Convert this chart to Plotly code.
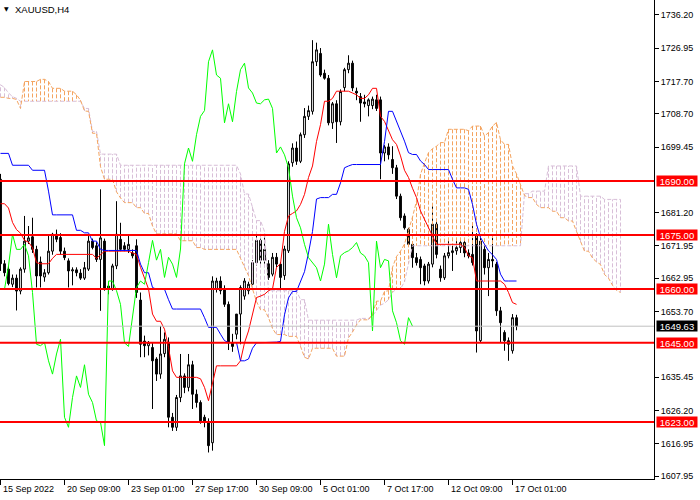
import plotly.graph_objects as go

# H4 bars, bar 0 = 15 Sep 2022 00:00
opens = [
    1690.5, 1667, 1665.5, 1661.3, 1663, 1659.4, 1665.5, 1673.3, 1674.5, 1671,
    1667.5, 1663.3, 1664.5, 1670.5, 1675.2, 1674.3, 1670.5, 1667.8, 1665, 1665.3,
    1664.4, 1663, 1665.5, 1673.3, 1672, 1668.2, 1673.3, 1660.8, 1659.9, 1666.4,
    1673.8, 1672, 1671, 1670, 1672, 1656.9, 1645.5, 1644.2, 1643.7, 1640.5,
    1636.3, 1642, 1645.1, 1624.3, 1621.5, 1629.8, 1635.8, 1632.6, 1638.9, 1630.7,
    1628.4, 1624.3, 1622.9, 1617.2, 1659.9, 1662.2, 1659.9, 1655.7, 1645, 1647.4,
    1653, 1658, 1659.5, 1661.3, 1667.3, 1673.5, 1668, 1667, 1664.1, 1668.8,
    1666.9, 1663.7, 1670.6, 1695.1, 1699.2, 1695.5, 1702.9, 1708, 1709.4, 1723.2,
    1725.5, 1720, 1718.6, 1706.2, 1711.5, 1706.5, 1716, 1721, 1722.8, 1715,
    1713.5, 1712, 1711, 1711, 1712.6, 1712.6, 1697.8, 1699.5, 1696, 1693.7,
    1685.8, 1680.3, 1676.6, 1672.4, 1668.7, 1668.2, 1666.4, 1662.2, 1666.9, 1678,
    1665.5, 1663.1, 1669.2, 1670.1, 1670.6, 1671.5, 1672.9, 1670, 1669.6, 1674.7,
    1645.6, 1671, 1665.9, 1668.2, 1666.9, 1653.9, 1647.9, 1645.6, 1642.8, 1652,
]
highs = [
    1692, 1668, 1666.5, 1664, 1664, 1666, 1680.3, 1677.5, 1679.8, 1672,
    1669, 1665.5, 1675.2, 1675.6, 1676.5, 1675.5, 1671.5, 1668.5, 1666, 1666,
    1665.5, 1667.5, 1674.7, 1674, 1673, 1687.7, 1674, 1662, 1667, 1684.4,
    1678.4, 1673, 1675, 1671, 1673.8, 1659, 1647, 1645.5, 1645, 1641,
    1649.7, 1647.9, 1646.5, 1625.5, 1630.5, 1641.9, 1636.5, 1641.9, 1640, 1632,
    1629, 1625, 1624, 1663.5, 1663.1, 1663.5, 1661, 1656.5, 1647.5, 1648.5,
    1661, 1663, 1662, 1668, 1675, 1674, 1674.8, 1668, 1670, 1670,
    1667.5, 1672, 1695.5, 1700.5, 1701, 1703.5, 1710.3, 1711, 1729.2, 1728.5,
    1727, 1721, 1719.5, 1712, 1712.5, 1715.5, 1721.5, 1725, 1723.5, 1716,
    1714.5, 1714, 1713, 1713.5, 1714, 1713.5, 1700, 1700.5, 1699.7, 1694.5,
    1686.5, 1681, 1677, 1673, 1670, 1669, 1667, 1667.5, 1683.1, 1678.8,
    1666.5, 1670, 1674, 1672, 1673.5, 1673.3, 1674, 1671, 1677.8, 1675.5,
    1674.5, 1672.5, 1670, 1674.7, 1667.5, 1655, 1648.5, 1646.5, 1653, 1652.8,
]
lows = [
    1665, 1663.5, 1661, 1660.5, 1654, 1658.5, 1664.5, 1672.5, 1670, 1660.4,
    1660.4, 1662, 1664, 1669.5, 1673, 1669.5, 1668, 1660.4, 1661, 1663.5,
    1662.5, 1662.5, 1665, 1671, 1667.5, 1653.9, 1659.5, 1658.5, 1659.5, 1665.5,
    1670.5, 1670.5, 1670, 1668.5, 1657.5, 1641, 1641, 1641.5, 1626.6, 1634.4,
    1635, 1641, 1621.5, 1620.5, 1620.5, 1628.5, 1631, 1631.5, 1626.6, 1627,
    1622.5, 1621.5, 1614.5, 1615, 1659, 1658.5, 1655, 1643, 1642.5, 1646,
    1644.6, 1657, 1658.5, 1660.5, 1666.5, 1667, 1667, 1662.5, 1663.5, 1666,
    1659.5, 1662.5, 1670, 1694, 1694.5, 1695, 1702, 1707, 1708.5, 1722,
    1719, 1718.2, 1705.5, 1704.5, 1700.6, 1705.5, 1715, 1720, 1715, 1712.5,
    1706.5, 1710.5, 1708, 1710, 1709.5, 1690.5, 1695.5, 1696, 1692, 1685,
    1679, 1676.5, 1671.8, 1665.9, 1666.5, 1661.3, 1661, 1661.5, 1666, 1668.5,
    1662, 1662.5, 1668.5, 1665, 1669.5, 1670, 1668.8, 1668.5, 1666.5, 1642.3,
    1645, 1664, 1658, 1666, 1652.5, 1645, 1642.8, 1640, 1642, 1648.5,
]
closes = [
    1667, 1664.5, 1661.5, 1663, 1659.4, 1665.5, 1673.3, 1674.2, 1671, 1663.6,
    1663.6, 1664.5, 1670.5, 1675.2, 1673.8, 1670.5, 1668.7, 1665, 1665.3, 1664.5,
    1663, 1665.9, 1673.3, 1671.5, 1668.2, 1674.2, 1659.9, 1659.9, 1666.4, 1675.2,
    1671, 1671, 1672.4, 1669.2, 1659, 1644.6, 1644.2, 1645.1, 1640, 1636.3,
    1641.9, 1646, 1624.3, 1621.5, 1629.8, 1635.8, 1632.6, 1638.9, 1630.7, 1628.4,
    1623.3, 1622.9, 1616.4, 1662.2, 1662.2, 1659.5, 1655.7, 1645, 1644, 1653,
    1660.4, 1662.2, 1661.3, 1667.3, 1673.5, 1668, 1671, 1663.2, 1668.8, 1666.9,
    1663.2, 1671.1, 1694.8, 1699.2, 1695.5, 1702.9, 1708, 1709.6, 1723.2, 1726.5,
    1719.5, 1718.6, 1706.2, 1711.5, 1706.5, 1714.9, 1721, 1722.8, 1715.9, 1714.5,
    1711.7, 1711.5, 1712.6, 1712.8, 1710.2, 1697.8, 1699.5, 1697.3, 1693.7, 1685.8,
    1679.8, 1677, 1672.4, 1668.7, 1667.3, 1665.9, 1662.2, 1666.9, 1678, 1669.6,
    1663.1, 1669.2, 1670.1, 1670.6, 1671.5, 1672.9, 1670, 1669.2, 1667.3, 1648.3,
    1673.3, 1665.9, 1668.2, 1667.8, 1653.9, 1650.6, 1645.6, 1644.6, 1652, 1649.63,
]

# ichimoku lines as drawn (red tenkan, blue kijun)
tenkan = [
    1683.7, 1683.7, 1682.5, 1678.5, 1676.5, 1675.5, 1673.5, 1673, 1671.5, 1667.3,
    1667, 1667, 1667, 1668.5, 1669.6, 1669.6, 1669.6, 1669.6, 1669.6, 1669.6,
    1669.6, 1669.6, 1669.6, 1669.6, 1668.5, 1669.6, 1670.5, 1670.5, 1670.5, 1670.5,
    1670.5, 1670.5, 1670.5, 1670, 1669.6, 1666, 1663, 1660, 1653, 1651,
    1651, 1648.8, 1643.7, 1637.2, 1635.4, 1635.4, 1635.4, 1635.4, 1635.4, 1635.4,
    1635, 1632.6, 1628.9, 1633.5, 1638.6, 1638.6, 1638.6, 1638.6, 1638.6, 1638.6,
    1640, 1645, 1648.3, 1653.4, 1657.6, 1658, 1658.5, 1659.5, 1660, 1666,
    1667, 1676, 1680.3, 1681, 1681.7, 1683.5, 1686.3, 1691, 1694.2, 1701,
    1705.7, 1712.2, 1712.2, 1713, 1715, 1715, 1715, 1715, 1714.5, 1714,
    1713, 1713, 1714, 1715.8, 1715.8, 1708, 1706.6, 1703.8, 1701.5, 1700.2,
    1697, 1693, 1691, 1688, 1685.4, 1681.7, 1679.5, 1677, 1674.7, 1672.4,
    1672.4, 1672.4, 1672.4, 1672.4, 1672.4, 1672.4, 1671.5, 1669.2, 1668.7, 1662.2,
    1662.2, 1662.2, 1662.2, 1662.2, 1662.2, 1662.2, 1661.3, 1659, 1656.2, 1655.7,
]
kijun = [
    1697.7, 1697.7, 1697.7, 1694.4, 1694.4, 1694.4, 1694.4, 1694.4, 1693, 1693,
    1693, 1693, 1687.2, 1680.6, 1680.6, 1680.6, 1680.6, 1680.6, 1680.6, 1676.3,
    1676.3, 1675.6, 1675.6, 1673.3, 1673.3, 1671, 1670.7, 1670.7, 1670.7, 1670.7,
    1670.7, 1670.7, 1670.7, 1670.7, 1670.7, 1666.9, 1664.5, 1664.5, 1660.4, 1659.9,
    1659.9, 1659.9, 1657, 1654.4, 1654.4, 1654.4, 1654.4, 1654.4, 1654.4, 1654.4,
    1654.4, 1652, 1649.3, 1649.3, 1649.3, 1647.4, 1645.6, 1645.1, 1645.1, 1645.1,
    1640, 1640, 1640.5, 1643.5, 1645, 1645, 1645.2, 1645.2, 1645.2, 1645.2,
    1645.4, 1652.8, 1657.5, 1659.3, 1659.3, 1662, 1664.8, 1670, 1676, 1685,
    1685.4, 1685.4, 1685.4, 1686.3, 1686.3, 1689.5, 1693.7, 1694.2, 1694.6, 1694.6,
    1694.6, 1694.6, 1694.6, 1694.6, 1694.6, 1694.6, 1701, 1709.4, 1709.4, 1706.7,
    1704, 1701.1, 1697.9, 1697.4, 1697.4, 1695.6, 1694.6, 1693.2, 1693.2, 1693.2,
    1693.2, 1693.2, 1693.2, 1690.5, 1688.1, 1688.1, 1688.1, 1687.7, 1683.5, 1678,
    1674.3, 1672.4, 1670.6, 1669.5, 1668.2, 1664.1, 1662.2, 1662.2, 1662.2, 1662.2,
]
# cloud spans, drawn 26 bars ahead of the last candle
senkou_a = [
    1713.3, 1713.3, 1713, 1713, 1712.7, 1710.2, 1717.7, 1717.7, 1717.7, 1717.7,
    1718.3, 1718.3, 1717.7, 1715.8, 1715.8, 1715.8, 1715, 1715, 1715, 1714,
    1712.5, 1709.5, 1709.4, 1703.3, 1703.3, 1694, 1690.5, 1690.5, 1690.5, 1687,
    1685.3, 1684, 1684, 1684, 1682.6, 1682.6, 1681, 1681, 1677.5, 1675.3,
    1675.3, 1675.3, 1675.3, 1675.3, 1675.3, 1673.4, 1673.4, 1673.4, 1673.4, 1671.5,
    1671.5, 1671, 1671, 1671, 1671, 1671, 1671, 1671, 1671, 1671,
    1668.5, 1666, 1663.7, 1660, 1656.5, 1654.2, 1654.2, 1652, 1649, 1647.3,
    1647.3, 1647.3, 1646.8, 1646.8, 1646.8, 1644, 1641, 1640.5, 1643.5, 1643.5,
    1643.5, 1643.5, 1643.5, 1643.5, 1641.3, 1641.3, 1641.3, 1646.4, 1648, 1650,
    1651.4, 1651.4, 1651.4, 1653, 1656.6, 1656.6, 1659.3, 1659.5, 1666, 1669,
    1670.5, 1672.5, 1676, 1680, 1684.4, 1691.9, 1695, 1697.9, 1699, 1699.7,
    1700.7, 1700.7, 1704.4, 1704.4, 1704.4, 1704.4, 1704.4, 1704, 1705.3, 1705.3,
    1705.3, 1702.5, 1703.5, 1705.3, 1706.3, 1701.5, 1700.2, 1700.2, 1694.2, 1692,
    1688.8, 1686, 1685.4, 1685.4, 1683.5, 1682.6, 1682.6, 1682.6, 1681.6, 1681.6,
    1679.8, 1679.8, 1678.9, 1678.9, 1676, 1673, 1670.5, 1670.5, 1668.6, 1667.5,
    1666.8, 1664, 1663, 1661, 1659.6, 1659,
]
senkou_b = [
    1716.8, 1716, 1714.5, 1713.5, 1713, 1712.2, 1712.2, 1712.2, 1712.2, 1712.2,
    1712.2, 1712.2, 1712.2, 1712.2, 1712.2, 1712.2, 1712.2, 1712.2, 1712.2, 1712.2,
    1712.2, 1710.2, 1710.2, 1703.8, 1703.8, 1697.5, 1697.5, 1697.5, 1697.5, 1697.5,
    1694.4, 1694.4, 1694.4, 1694.4, 1694.4, 1694.4, 1694.4, 1694.4, 1694.4, 1694.4,
    1694.4, 1694.4, 1694.4, 1694.4, 1694.4, 1694.4, 1694.4, 1694.4, 1694.4, 1694.4,
    1694.4, 1694.4, 1694.4, 1694.4, 1694.4, 1694.4, 1694.4, 1694.4, 1694.4, 1694.4,
    1692, 1686.4, 1686.4, 1683, 1679, 1679, 1676, 1659.5, 1659.5, 1659.5,
    1659.5, 1659.5, 1659.5, 1659.5, 1659.5, 1657, 1657, 1651.3, 1651.3, 1651.3,
    1651.3, 1651.3, 1651.3, 1651.3, 1651.3, 1651.3, 1651.3, 1651.3, 1651.3, 1651.3,
    1651.8, 1651.8, 1651.8, 1652.5, 1654, 1655.5, 1656, 1657, 1659, 1660,
    1660, 1662, 1667, 1672, 1672, 1672, 1672, 1672, 1672, 1672,
    1672, 1672, 1672, 1672, 1672, 1672, 1672, 1672, 1672, 1672,
    1672, 1672, 1672, 1672, 1672, 1672, 1672, 1672, 1672, 1672,
    1672, 1686.5, 1686.5, 1687.2, 1687.2, 1687.2, 1687.2, 1694.2, 1694.2, 1694.2,
    1694.2, 1694.2, 1694.2, 1694.2, 1694.2, 1685.8, 1685.8, 1685.8, 1685.8, 1685.8,
    1685.8, 1684.9, 1684.9, 1684.9, 1684.9, 1684.9,
]

levels = [1690.00, 1675.00, 1660.00, 1645.00, 1623.00]
y_ticks = [1736.20, 1726.95, 1717.70, 1708.70, 1699.45, 1681.20, 1671.95,
           1662.95, 1653.70, 1635.45, 1626.20, 1616.95, 1607.95]
x_tick_bars = [0, 16, 32, 48, 64, 80, 96, 112, 128]
x_tick_labels = ["15 Sep 2022", "20 Sep 09:00", "23 Sep 01:00", "27 Sep 17:00",
                 "30 Sep 09:00", "5 Oct 01:00", "7 Oct 17:00", "12 Oct 09:00",
                 "17 Oct 01:00"]
symbol = "XAUUSD,H4"

n = len(closes)
lag = 26
FONT = "Liberation Sans"
ORANGE = "#F4A460"
THISTLE = "#D8BFD8"

fig = go.Figure()

# cloud hatching: one dashed vertical per bar between the two spans
hx = {ORANGE: [], THISTLE: []}
hy = {ORANGE: [], THISTLE: []}
for i, (a, b) in enumerate(zip(senkou_a, senkou_b)):
    c = ORANGE if a >= b else THISTLE
    hx[c] += [i, i, None]
    hy[c] += [a, b, None]
for c in (THISTLE, ORANGE):
    fig.add_trace(go.Scatter(x=hx[c], y=hy[c], mode="lines",
                             line=dict(color=c, width=1, dash="4px,2px"),
                             hoverinfo="skip"))

fig.add_trace(go.Scatter(x=list(range(len(senkou_b))), y=senkou_b, mode="lines",
                         line=dict(color=THISTLE, width=1, dash="4px,2px")))
fig.add_trace(go.Scatter(x=list(range(len(senkou_a))), y=senkou_a, mode="lines",
                         line=dict(color=ORANGE, width=1, dash="4px,2px")))

fig.add_trace(go.Candlestick(
    x=list(range(n)), open=opens, high=highs, low=lows, close=closes,
    increasing=dict(line=dict(color="black", width=1), fillcolor="white"),
    decreasing=dict(line=dict(color="black", width=1), fillcolor="black"),
    whiskerwidth=0))

fig.add_trace(go.Scatter(x=list(range(n)), y=tenkan, mode="lines",
                         line=dict(color="#FF0000", width=1)))
fig.add_trace(go.Scatter(x=list(range(n)), y=kijun, mode="lines",
                         line=dict(color="#0000FF", width=1)))
# chikou: closes drawn 26 bars back
fig.add_trace(go.Scatter(x=list(range(n - lag)), y=closes[lag:], mode="lines",
                         line=dict(color="#00FF00", width=1)))

last = closes[-1]
fig.add_hline(y=last, line=dict(color="#C0C0C0", width=1))
for lv in levels:
    fig.add_hline(y=lv, line=dict(color="#FF0000", width=2))

ann = []
for lv in levels:
    ann.append(dict(x=1, xref="paper", y=lv, yref="y", xanchor="left", xshift=2,
                    text=f"{lv:.2f}", showarrow=False, bgcolor="#FF0000",
                    font=dict(family=FONT, size=9.5, color="white"),
                    width=40, height=10, borderpad=0))
ann.append(dict(x=1, xref="paper", y=last, yref="y", xanchor="left", xshift=2,
                text=f"{last:.2f}", showarrow=False, bgcolor="black",
                font=dict(family=FONT, size=9.5, color="white"),
                width=40, height=10, borderpad=0))
for b, t in zip(x_tick_bars, x_tick_labels):
    ann.append(dict(x=b, xref="x", y=0, yref="paper", xanchor="left", yanchor="top",
                    yshift=-3, text=t, showarrow=False,
                    font=dict(family=FONT, size=9, color="black")))
ann.append(dict(x=0, xref="paper", y=1, yref="paper", xanchor="left", yanchor="top",
                xshift=2, yshift=-3, text="▼", showarrow=False,
                font=dict(family="DejaVu Sans", size=6, color="black")))
ann.append(dict(x=0, xref="paper", y=1, yref="paper", xanchor="left", yanchor="top",
                xshift=13, yshift=-2, text=symbol, showarrow=False,
                font=dict(family=FONT, size=9.5, color="black")))

fig.update_layout(
    width=700, height=500,
    margin=dict(l=0, r=46, t=0, b=21),
    paper_bgcolor="white", plot_bgcolor="white",
    showlegend=False, boxgap=0.35,
    annotations=ann,
    xaxis=dict(range=[-0.125, 163.375], showgrid=False, zeroline=False,
               showline=True, linecolor="black", linewidth=1,
               ticks="outside", ticklen=5, tickcolor="black",
               tickvals=x_tick_bars, showticklabels=False,
               rangeslider=dict(visible=False)),
    yaxis=dict(side="right", range=[1607.12, 1740.37], showgrid=False,
               zeroline=False, showline=True, linecolor="black", linewidth=1,
               ticks="outside", ticklen=4, tickcolor="black",
               tickvals=y_ticks, ticktext=[f"{v:.2f}" for v in y_ticks],
               tickfont=dict(family=FONT, size=9, color="black")),
)

# page body has an 8px default margin; drop it so the chart sits at 0,0
fig.write_html("out.html", config={"displayModeBar": False},
               post_script="document.body.style.margin='0';")
